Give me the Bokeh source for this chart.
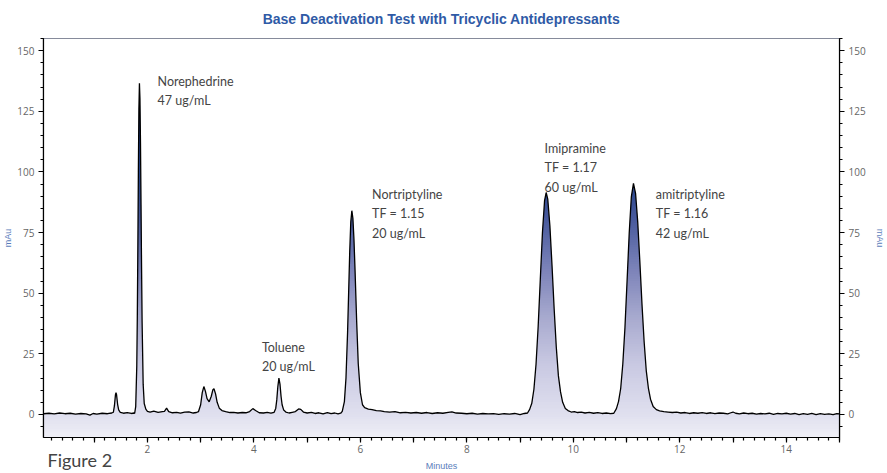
import numpy as np
from bokeh.plotting import figure
from bokeh.models import Range1d, LinearAxis, FixedTicker, ColumnDataSource, Title
from bokeh.core.properties import value
from bokeh.embed import file_html
from bokeh.resources import INLINE

# ---------------- data ----------------
retention_time = [
    0.05, 0.15, 0.25, 0.35, 0.45, 0.55, 0.65, 0.75, 0.85, 0.92, 0.98, 1.05, 1.15, 1.25, 1.33,
    1.36, 1.38, 1.40, 1.41, 1.42, 1.44, 1.46, 1.49, 1.55, 1.62, 1.70, 1.75,
    1.76, 1.78, 1.80, 1.81, 1.82, 1.83, 1.84, 1.85, 1.86, 1.87, 1.88, 1.89, 1.90, 1.92, 1.94, 1.97, 2.00,
    2.05, 2.12, 2.20, 2.28, 2.32, 2.36, 2.40, 2.47, 2.55, 2.62, 2.70, 2.78, 2.86, 2.92,
    2.96, 3.00, 3.03, 3.06, 3.09, 3.12, 3.16, 3.20, 3.23, 3.25, 3.28, 3.31, 3.35, 3.40, 3.47,
    3.55, 3.62, 3.70, 3.78, 3.85, 3.92, 3.98, 4.04, 4.10, 4.18, 4.25, 4.32, 4.38,
    4.41, 4.43, 4.45, 4.47, 4.49, 4.51, 4.53, 4.56, 4.60, 4.66, 4.72, 4.78, 4.84, 4.88, 4.93,
    5.00, 5.08, 5.15, 5.22, 5.30, 5.38, 5.45, 5.52, 5.58, 5.63,
    5.66, 5.70, 5.73, 5.76, 5.78, 5.80, 5.82, 5.84, 5.86, 5.88, 5.90, 5.93, 5.96, 6.00, 6.04,
    6.08, 6.15, 6.22, 6.30, 6.38, 6.45, 6.55, 6.65, 6.75, 6.85, 6.95, 7.05, 7.15, 7.25, 7.35,
    7.45, 7.55, 7.65, 7.72, 7.80, 7.90, 8.00, 8.10, 8.20, 8.30, 8.40, 8.50, 8.60, 8.70, 8.80,
    8.90, 9.00, 9.08, 9.14,
    9.18, 9.22, 9.26, 9.30, 9.34, 9.38, 9.42, 9.46, 9.49, 9.52, 9.56, 9.60, 9.64, 9.68, 9.72,
    9.76, 9.80, 9.85, 9.90, 9.96, 10.02, 10.08, 10.15, 10.22, 10.30, 10.38, 10.46, 10.54, 10.62,
    10.70, 10.76,
    10.81, 10.85, 10.89, 10.93, 10.97, 11.01, 11.05, 11.09, 11.13, 11.17, 11.21, 11.25, 11.29,
    11.33, 11.37, 11.41, 11.45, 11.50, 11.56, 11.62, 11.70, 11.78, 11.86, 11.94, 12.02, 12.10,
    12.18, 12.26, 12.34, 12.42, 12.50, 12.58, 12.66, 12.74, 12.82, 12.90, 12.96, 13.00, 13.05,
    13.12, 13.20, 13.28, 13.36, 13.44, 13.52, 13.60, 13.68, 13.76, 13.84, 13.92, 14.00, 14.08,
    14.16, 14.24, 14.32, 14.40, 14.48, 14.56, 14.64, 14.72, 14.80, 14.88, 14.95, 15.00,
]
absorbance_mau = [
    0.3, 0.5, 0.2, 0.6, 0.3, 0.5, 0.1, 0.4, 0.2, -0.3, 0.4, 0.1, 0.5, 0.3, 0.6,
    0.9, 3.5, 8.2, 9.0, 8.2, 4.2, 1.9, 0.9, 0.5, 0.8, 0.4, 0.6,
    0.4, 3.2, 19.9, 39.8, 68.0, 100.0, 126.0, 136.5, 130.0, 111.5, 86.5, 60.7, 38.4, 12.5, 4.5, 2.2, 1.3,
    1.0, 1.4, 0.9, 1.2, 1.3, 2.6, 1.2, 0.7, 0.9, 0.5, 1.0, 1.1, 0.6, 0.8,
    1.2, 4.0, 9.0, 11.5, 9.5, 6.5, 5.2, 7.5, 10.2, 10.6, 8.5, 5.0, 2.6, 1.6, 1.2,
    0.8, 0.9, 0.6, 0.8, 0.7, 1.2, 2.4, 1.5, 0.7, 0.6, 0.9, 0.5, 0.9,
    2.5, 6.0, 11.5, 15.0, 12.5, 7.5, 4.0, 1.8, 1.0, 0.6, 0.9, 1.2, 2.3, 2.1, 1.0,
    0.6, 0.9, 0.4, 0.7, 0.2, 0.8, 0.3, 0.6, 0.2, 0.5,
    1.3, 5.3, 15.1, 34.0, 50.5, 67.0, 79.4, 84.0, 80.8, 72.0, 59.5, 38.6, 21.0, 9.0, 4.0,
    2.8, 2.2, 2.0, 1.6, 1.5, 1.2, 1.0, 1.2, 0.7, 0.9, 0.6, 0.8, 0.5, 0.8, 0.4,
    0.7, 0.5, 0.9, 1.1, 0.6, 0.5, 0.3, 0.5, 0.1, 0.4, 0.2, 0.3, 0.0, 0.3, 0.1,
    0.4, -0.1, 0.4, 0.6,
    2.1, 4.6, 10.4, 20.8, 36.4, 55.7, 74.9, 88.2, 91.5, 88.8, 77.8, 61.4, 43.6, 27.8, 15.9,
    9.3, 5.0, 2.5, 1.6, 1.0, 1.2, 0.8, 1.0, 0.6, 0.9, 0.5, 0.8, 0.4, 0.6,
    0.3, 0.5,
    2.4, 5.4, 10.7, 20.9, 35.8, 55.1, 74.7, 89.7, 95.3, 91.0, 79.3, 62.9, 45.4,
    30.1, 18.1, 10.9, 6.3, 3.3, 2.0, 1.5, 1.2, 1.0, 0.8, 1.0, 0.6, 0.8,
    0.4, 0.7, 0.5, 0.8, 0.4, 0.7, 0.3, 0.6, 0.5, 0.2, 0.7, 1.0, 0.5,
    0.2, 0.6, 0.3, 0.5, 0.1, 0.4, 0.2, 0.5, 0.0, 0.4, 0.2, 0.5, 0.1,
    0.4, -0.1, 0.3, 0.0, 0.4, -0.1, 0.3, 0.0, 0.2, -0.1, 0.3, 0.2,
]

peak_names = ["Norephedrine", "Toluene", "Nortriptyline", "Imipramine", "amitriptyline"]
peak_notes = ["47 ug/mL", "20 ug/mL", "TF = 1.15\n20 ug/mL", "TF = 1.17\n60 ug/mL", "TF = 1.16\n42 ug/mL"]
label_time = [2.19, 4.15, 6.22, 9.46, 11.55]
label_mau = [140.4, 30.9, 93.9, 112.8, 93.9]

x_major_ticks = list(range(1, 16))
y_major_ticks = [0, 25, 50, 75, 100, 125, 150]

TITLE = "Base Deactivation Test with Tricyclic Antidepressants"
BLUE_TITLE = "#2f5aa6"
BLUE_AXIS = "#5b7dbb"

# ---------------- figure ----------------
W, H = 887, 473
p = figure(width=W, height=H, output_backend="svg", toolbar_location=None,
           x_range=Range1d(0.048, 15.0), y_range=Range1d(-9.5, 155),
           min_border_left=41, min_border_right=44, min_border_top=38, min_border_bottom=36,
           background_fill_color="white", border_fill_color="white")
p.grid.visible = False
p.outline_line_color = "black"
p.outline_line_width = 1.2

p.title.text = TITLE
p.title.align = "center"
p.title.text_font = "Liberation Sans"
p.title.text_font_style = "bold"
p.title.text_font_size = "14px"
p.title.text_color = BLUE_TITLE
p.title.vertical_align = "top"
p.title.standoff = 19

# vertical gradient under the trace (bands, then white mask above the trace)
stops_v = [-10, 0, 20, 40, 60, 80, 95, 115, 140, 160]
stops_r = [240, 224, 202, 168, 124, 74, 42, 33, 20, 20]
stops_g = [240, 224, 202, 170, 131, 91, 70, 66, 36, 36]
stops_b = [247, 239, 227, 207, 185, 158, 140, 150, 90, 90]
edges = np.linspace(-10, 160, 171)
mids = (edges[:-1] + edges[1:]) / 2
cols = ["#%02x%02x%02x" % (int(np.interp(m, stops_v, stops_r)),
                           int(np.interp(m, stops_v, stops_g)),
                           int(np.interp(m, stops_v, stops_b))) for m in mids]
p.quad(left=-1, right=16, bottom=edges[:-1], top=edges[1:] + 0.4, fill_color=cols, line_color=None)

src = ColumnDataSource(dict(t=retention_time, a=absorbance_mau))
p.varea(x="t", y1="a", y2=400, source=src, fill_color="white")
p.line(x="t", y="a", source=src, line_color="black", line_width=1.3)

lab_src = ColumnDataSource(dict(x=label_time, y=label_mau,
                                txt=[n + "\n" + s for n, s in zip(peak_names, peak_notes)]))
p.text(x="x", y="y", text="txt", source=lab_src, text_font=value("Lato"),
       text_font_size="12.5px", text_color="#444444", text_baseline="top",
       text_align="left", text_line_height=1.3)

# axes
def style_axis(ax):
    ax.axis_line_color = "black"
    ax.axis_line_width = 1.2
    ax.major_tick_line_color = "black"
    ax.minor_tick_line_color = "black"
    ax.major_tick_line_width = 1.2
    ax.minor_tick_line_width = 1.2
    ax.major_tick_in = 0
    ax.major_tick_out = 5
    ax.minor_tick_in = 0
    ax.minor_tick_out = 3
    ax.major_label_text_font = "Open Sans"
    ax.major_label_text_font_size = "10px"
    ax.major_label_text_color = "#666666"
    ax.major_label_standoff = 4
    ax.axis_label_text_font = "Liberation Sans"
    ax.axis_label_text_font_size = "9px"
    ax.axis_label_text_font_style = "normal"
    ax.axis_label_text_color = BLUE_AXIS

xt = FixedTicker(ticks=x_major_ticks, minor_ticks=[round(0.2 * i, 1) for i in range(0, 76)])
p.xaxis.ticker = xt
p.xaxis.major_label_overrides = {t: ("" if t % 2 else str(t)) for t in x_major_ticks}
yt = FixedTicker(ticks=y_major_ticks, minor_ticks=list(range(-5, 156, 5)))
p.yaxis.ticker = yt
right_axis = LinearAxis(ticker=yt)
p.add_layout(right_axis, "right")
for ax in [p.xaxis[0], p.yaxis[0], right_axis]:
    style_axis(ax)
p.xaxis.major_label_standoff = 2
p.xaxis.axis_label = "Minutes"
p.xaxis.axis_label_standoff = 5
p.yaxis[0].axis_label = "mAu"
p.yaxis[0].axis_label_standoff = 1
right_axis.axis_label = "mAu"
right_axis.axis_label_standoff = 6

fig_note = Title(text="Figure 2", align="left", offset=4, standoff=-50, vertical_align="top",
                 text_font="Lato", text_font_size="18px", text_font_style="normal",
                 text_color="#444444")
p.add_layout(fig_note, "below")

open("out.html", "w").write(file_html(p, INLINE))
